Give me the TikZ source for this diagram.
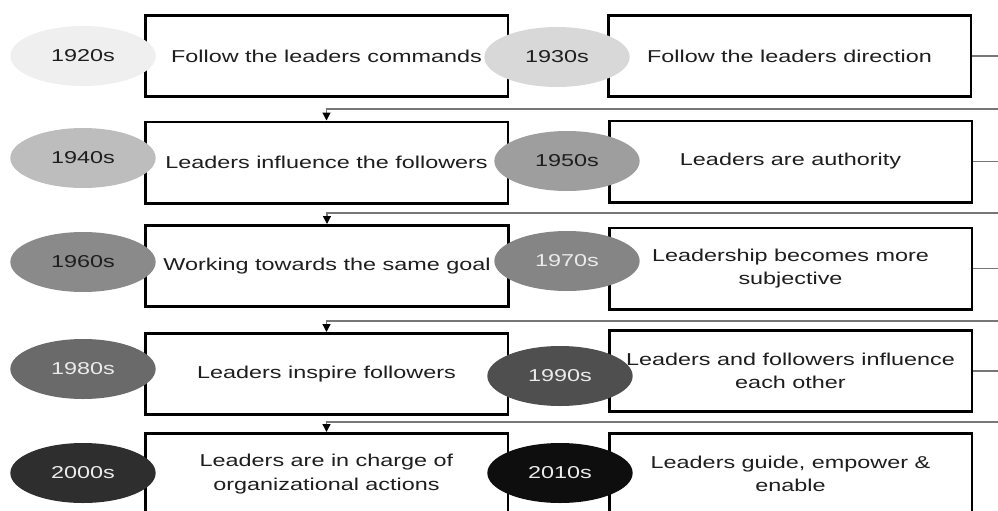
\documentclass[tikz,border=0pt]{standalone}
\usepackage{fontspec}
\setmainfont{Liberation Sans}[FakeStretch=1.36]
\usepackage{tikz}
\usetikzlibrary{shapes.geometric, arrows.meta, positioning}

% greys of the decade ellipses, light to dark
\definecolor{shadeA}{HTML}{EFEFEF}
\definecolor{shadeB}{HTML}{D8D8D8}
\definecolor{shadeC}{HTML}{BDBDBD}
\definecolor{shadeD}{HTML}{9E9E9E}
\definecolor{shadeE}{HTML}{8A8A8A}
\definecolor{shadeF}{HTML}{858585}
\definecolor{shadeG}{HTML}{6A6A6A}
\definecolor{shadeH}{HTML}{4F4F4F}
\definecolor{shadeI}{HTML}{2E2E2E}
\definecolor{shadeJ}{HTML}{0E0E0E}
\definecolor{textgray}{HTML}{1E1E1E}
\definecolor{linkgray}{HTML}{777777}

\begin{document}
\begin{tikzpicture}[
            x=0.75pt, y=-0.75pt,
            every node/.style={font=\fontsize{12.9}{17.5}\selectfont, text=textgray},
            period/.style={draw=black, line width=2pt, fill=white, align=center,
                           minimum width=272pt, minimum height=61pt, inner sep=0pt},
            decade/.style={ellipse, minimum width=109pt, minimum height=45pt, inner sep=0pt},
            light/.style={text=textgray},
            dark/.style={text=white!92!black},
            link/.style={draw=linkgray, line width=1pt, -{Triangle[black, width=6pt, length=6pt]}}
        ]
    \useasboundingbox (0,0) rectangle (998,510);

    % boxes, left column
    \node[period] (c1920) at (326.5,56) {Follow the leaders commands};
    \node[period] (c1940) at (326.5,162.5) {Leaders influence the followers};
    \node[period] (c1960) at (327,266) {Working towards the same goal};
    \node[period] (c1980) at (326.5,374) {Leaders inspire followers};
    \node[period] (c2000) at (326.5,474) {Leaders are in charge of\\organizational actions};

    % boxes, right column
    \node[period] (c1930) at (789.5,56) {Follow the leaders direction};
    \node[period] (c1950) at (790.5,161.5) {Leaders are authority};
    \node[period] (c1970) at (790.5,268.5) {Leadership becomes more\\subjective};
    \node[period] (c1990) at (790.5,371) {Leaders and followers influence\\each other};
    \node[period] (c2010) at (790.5,474) {Leaders guide, empower \&\\enable};

    % decades
    \node[decade, fill=shadeA, light] (d1920) at (83,56) {1920s};
    \node[decade, fill=shadeB, light] (d1930) at (557,57) {1930s};
    \node[decade, fill=shadeC, light] (d1940) at (83,158) {1940s};
    \node[decade, fill=shadeD, light] (d1950) at (567,161) {1950s};
    \node[decade, fill=shadeE, light] (d1960) at (83,262) {1960s};
    \node[decade, fill=shadeF, dark] (d1970) at (567,261) {1970s};
    \node[decade, fill=shadeG, dark] (d1980) at (83,369) {1980s};
    \node[decade, fill=shadeH, dark] (d1990) at (560,376) {1990s};
    \node[decade, fill=shadeI, dark] (d2000) at (83,473) {2000s};
    \node[decade, fill=shadeJ, dark] (d2010) at (560,473) {2010s};

    % turns just past the right edge
    \coordinate (t1) at (1000,109);
    \coordinate (t2) at (1000,213);
    \coordinate (t3) at (1000,321);
    \coordinate (t4) at (1000,422);

    % row to row links
    \draw[link] (c1930.east) -| (t1) -| (c1940.north);
    \draw[link] (c1950.east) -| (t2) -| (c1960.north);
    \draw[link] (c1970.east) -| (t3) -| (c1980.north);
    \draw[link] (c1990.east) -| (t4) -| (c2000.north);

\end{tikzpicture}
\end{document}
